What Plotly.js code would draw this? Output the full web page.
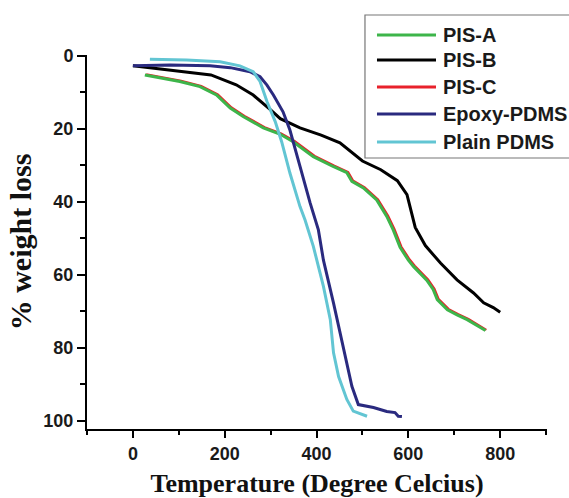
<!DOCTYPE html>
<html>
<head>
<meta charset="utf-8">
<script src="https://cdn.plot.ly/plotly-3.0.1.min.js"></script>
<style>html,body{margin:0;padding:0;background:#fff;}#chart{width:569px;height:498px;}</style>
</head>
<body>
<div id="chart"></div>
<script>
// PIS-A (green)
const pisA_x = [26, 60, 102, 146, 182, 212, 240, 284, 320, 349, 393, 436, 466, 477, 502, 531, 553, 567, 582, 600, 611, 640, 654, 663, 685, 706, 728, 768];
const pisA_y = [5.2, 6.0, 7.0, 8.4, 10.7, 14.3, 16.6, 19.7, 21.4, 23.5, 27.6, 30.3, 32.0, 34.4, 36.2, 39.5, 44.0, 47.7, 52.5, 56.0, 57.7, 61.5, 64.0, 66.8, 69.6, 71.0, 72.3, 75.3];
// PIS-B (black)
const pisB_x = [0, 80, 170, 225, 262, 300, 321, 364, 410, 451, 500, 540, 576, 597, 605, 615, 637, 670, 706, 742, 764, 785, 800];
const pisB_y = [2.7, 3.8, 5.2, 7.9, 10.7, 14.8, 17.2, 19.7, 21.7, 23.8, 28.8, 31.2, 34.2, 38.0, 42.0, 47.0, 52.0, 56.8, 61.4, 65.0, 67.7, 69.0, 70.3];
// PIS-C (red)
const pisC_x = [29, 63, 105, 149, 185, 215, 243, 287, 323, 352, 396, 439, 469, 480, 505, 534, 556, 570, 585, 603, 614, 643, 657, 666, 688, 709, 731, 770];
const pisC_y = [5.0, 5.8, 6.8, 8.2, 10.5, 14.1, 16.4, 19.5, 21.2, 23.3, 27.4, 30.1, 31.8, 34.2, 36.0, 39.3, 43.8, 47.5, 52.3, 55.8, 57.5, 61.3, 63.8, 66.6, 69.4, 70.8, 72.1, 75.1];
// Epoxy-PDMS (navy)
const epoxy_x = [0, 81, 168, 212, 255, 277, 292, 306, 327, 342, 364, 386, 404, 415, 437, 458, 477, 491, 524, 553, 571, 578, 586];
const epoxy_y = [2.7, 2.5, 2.7, 3.2, 4.3, 5.7, 8.0, 10.7, 15.3, 20.3, 30.3, 40.3, 47.7, 56.0, 67.8, 79.6, 90.6, 95.6, 96.4, 97.5, 97.8, 98.8, 98.9];
// Plain PDMS (cyan)
const plain_x = [37, 117, 190, 233, 262, 277, 292, 310, 324, 342, 364, 375, 393, 415, 430, 437, 448, 466, 480, 510];
const plain_y = [0.9, 1.1, 1.6, 2.7, 4.3, 7.0, 12.5, 18.0, 23.5, 32.1, 41.3, 45.0, 52.2, 63.2, 72.3, 81.4, 87.9, 94.2, 97.4, 98.8];

const xTicks = [0, 200, 400, 600, 800];
const yTicks = [0, 20, 40, 60, 80, 100];

const names = ['PIS-A', 'PIS-B', 'PIS-C', 'Epoxy-PDMS', 'Plain PDMS'];
const colors = ['#3db54a', '#000000', '#e8212b', '#2a2a7f', '#62c5d3'];

function tr(x, y, i, w) {
  return {x: x, y: y, name: names[i], type: 'scatter', mode: 'lines',
    line: {color: colors[i], width: w}, showlegend: false};
}

const data = [
  tr(pisC_x, pisC_y, 2, 2),
  tr(pisA_x, pisA_y, 0, 3),
  tr(pisB_x, pisB_y, 1, 3),
  tr(epoxy_x, epoxy_y, 3, 3),
  tr(plain_x, plain_y, 4, 3)
];

// Legend drawn as a box with sample lines and labels (paper coordinates)
const legRowY = [1.0535, 0.9866, 0.9144, 0.8422, 0.7674];
const shapes = [{type: 'rect', xref: 'paper', yref: 'paper', x0: 0.6043, x1: 1.07, y0: 0.7246, y1: 1.107,
  line: {color: '#777', width: 1.2}, fillcolor: '#fff', layer: 'above'}];
const annotations = [];
names.forEach((n, i) => {
  shapes.push({type: 'line', xref: 'paper', yref: 'paper', x0: 0.6304, x1: 0.7587, y0: legRowY[i], y1: legRowY[i],
    line: {color: colors[i], width: 3}, layer: 'above'});
  annotations.push({xref: 'paper', yref: 'paper', x: 0.7696, y: legRowY[i], xanchor: 'left', yanchor: 'middle',
    text: n, showarrow: false,
    font: {family: 'Liberation Sans, Arial, sans-serif', size: 20, color: '#1a1a1a', weight: 'bold'}});
});

const tickFont = {family: 'Liberation Sans, Arial, sans-serif', size: 18, color: '#1a1a1a', weight: 'bold'};

const layout = {
  width: 569, height: 498,
  margin: {l: 87, r: 22, t: 55, b: 69},
  paper_bgcolor: '#fff', plot_bgcolor: '#fff',
  showlegend: false,
  shapes: shapes,
  annotations: annotations,
  xaxis: {range: [-100, 902], tickvals: xTicks, ticktext: xTicks.map(String),
    showgrid: false, zeroline: false, showline: true, linecolor: '#000', linewidth: 2,
    ticks: 'outside', ticklen: 7, tickwidth: 2, tickcolor: '#000',
    minor: {ticks: 'outside', ticklen: 4, tickwidth: 2, tickcolor: '#000', dtick: 100, tick0: 0, showgrid: false},
    tickfont: tickFont,
    title: {text: 'Temperature (Degree Celcius)', standoff: 16,
      font: {family: 'Liberation Serif, Times New Roman, serif', size: 26, color: '#111', weight: 'bold'}}},
  yaxis: {range: [102.3, -0.27], tickvals: yTicks, ticktext: yTicks.map(String),
    showgrid: false, zeroline: false, showline: true, linecolor: '#000', linewidth: 2,
    ticks: 'outside', ticklen: 8, tickwidth: 2, tickcolor: '#000',
    minor: {ticks: 'outside', ticklen: 5, tickwidth: 2, tickcolor: '#000', dtick: 10, tick0: 0, showgrid: false},
    tickfont: tickFont,
    title: {text: '% weight loss', standoff: 3,
      font: {family: 'Liberation Serif, Times New Roman, serif', size: 30, color: '#111', weight: 'bold'}}}
};

Plotly.newPlot('chart', data, layout, {displayModeBar: false, staticPlot: true});
</script>
</body>
</html>
